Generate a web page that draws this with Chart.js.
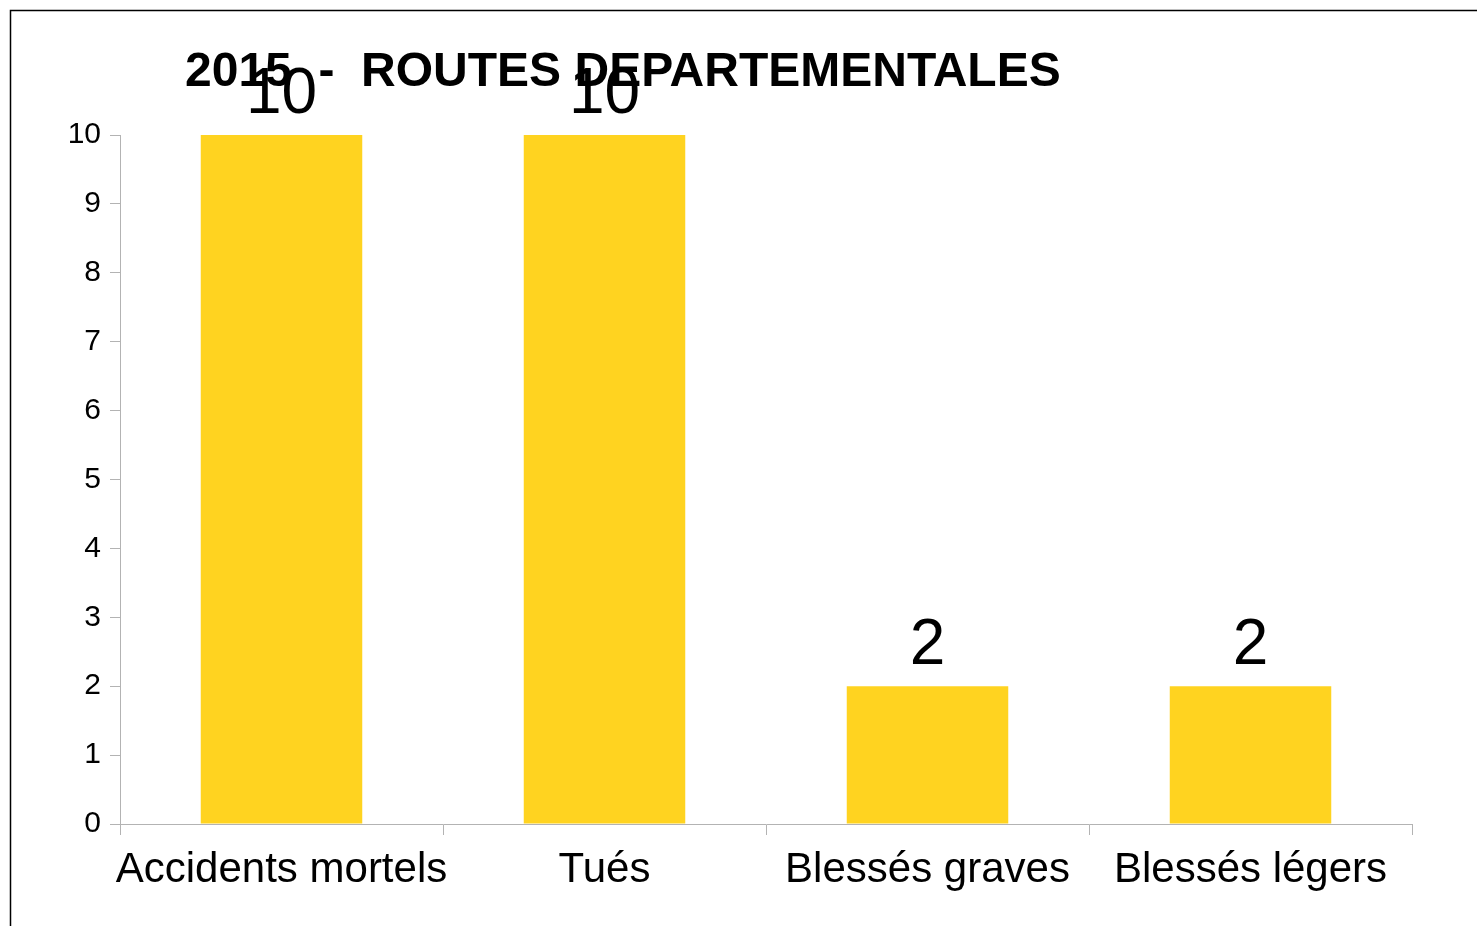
<!DOCTYPE html>
<html>
<head>
<meta charset="utf-8">
<script src="https://cdn.jsdelivr.net/npm/chart.js@4/dist/chart.umd.min.js"></script>
<style>
  html, body { margin: 0; padding: 0; background: #fff; }
  canvas { display: block; }
</style>
</head>
<body>
<canvas id="chart" width="1477" height="926"></canvas>
<script>
// data
var categories = ['Accidents mortels', 'Tués', 'Blessés graves', 'Blessés légers'];
var values = [10, 10, 2, 2];
var titleText = '2015  -  ROUTES DEPARTEMENTALES';

var FONT = '"Liberation Sans", Arial, sans-serif';
var AXIS_GREY = '#b3b3b3';

// frame + title + value labels
var decorations = {
    id: 'decorations',
    beforeDraw: function(chart) {
        var ctx = chart.ctx;
        ctx.save();
        ctx.fillStyle = '#fff';
        ctx.fillRect(0, 0, chart.width, chart.height);
        ctx.strokeStyle = '#000';
        ctx.lineWidth = 1.5;
        ctx.strokeRect(10.5, 10.5, chart.width + 20, chart.height + 20);
        ctx.restore();
    },
    afterDraw: function(chart) {
        var ctx = chart.ctx;
        ctx.save();
        ctx.fillStyle = '#000';
        ctx.textBaseline = 'alphabetic';
        ctx.textAlign = 'left';
        ctx.font = 'bold 48px ' + FONT;
        ctx.fillText(titleText, 185, 86);

        ctx.textAlign = 'center';
        ctx.font = '64px ' + FONT;
        var meta = chart.getDatasetMeta(0);
        meta.data.forEach(function(bar, i) {
            ctx.fillText(String(values[i]), bar.x, bar.y - 22);
        });
        ctx.restore();
    }
};

var ctx = document.getElementById('chart').getContext('2d');
var myChart = new Chart(ctx, {
    type: 'bar',
    data: {
        labels: categories,
        datasets: [{
            data: values,
            backgroundColor: '#ffd320',
            borderWidth: 0,
            barPercentage: 0.5,
            categoryPercentage: 1
        }]
    },
    options: {
        responsive: false,
        animation: false,
        devicePixelRatio: 1,
        plugins: {
            legend: { display: false },
            title: { display: false },
            tooltip: { enabled: false }
        },
        layout: {
            padding: { left: 0, right: 65, top: 135, bottom: 0 }
        },
        scales: {
            x: {
                grid: {
                    display: true,
                    drawOnChartArea: false,
                    offset: true,
                    tickLength: 11,
                    color: AXIS_GREY,
                    lineWidth: 1
                },
                border: { color: AXIS_GREY, width: 1 },
                ticks: {
                    color: '#000',
                    padding: 10,
                    maxRotation: 0,
                    autoSkip: false,
                    font: { family: FONT, size: 42 }
                },
                afterFit: function(scale) { scale.height = 102; }
            },
            y: {
                min: 0,
                max: 10,
                grid: {
                    display: true,
                    drawOnChartArea: false,
                    tickLength: 10,
                    color: AXIS_GREY,
                    lineWidth: 1
                },
                border: { color: AXIS_GREY, width: 1 },
                ticks: {
                    stepSize: 1,
                    color: '#000',
                    padding: 9,
                    font: { family: FONT, size: 30 }
                },
                afterFit: function(scale) { scale.width = 120; }
            }
        }
    },
    plugins: [decorations]
});
</script>
</body>
</html>
